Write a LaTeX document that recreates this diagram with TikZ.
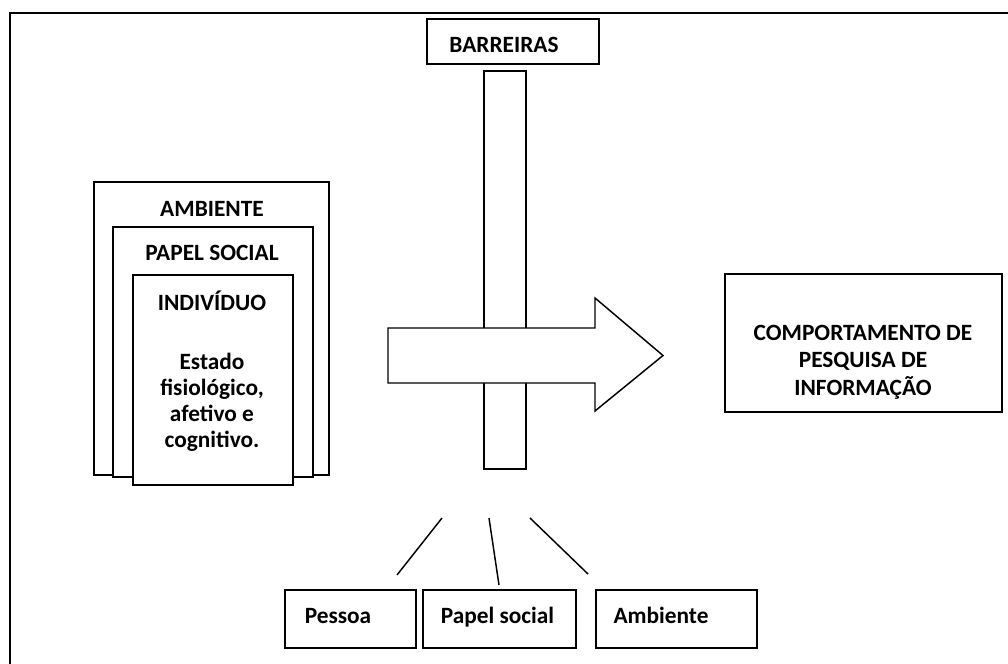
\documentclass[tikz,border=0pt]{standalone}
\usepackage{fontspec}
\setmainfont{Carlito}
\usetikzlibrary{fit}
\tikzset{box/.style={draw,line width=1.1pt,fill=white,inner sep=0pt},
         label text/.style={font=\fontsize{17.5}{20}\selectfont\bfseries,align=center,inner sep=0pt},
         word/.style={label text,anchor=base},
         link/.style={line width=1.1pt},
        }

\begin{document}
\begin{tikzpicture}[x=0.75pt,y=-0.75pt]
        \useasboundingbox (0,0) rectangle (1008,664);
        \coordinate (f1) at (10,664);
        \coordinate (f2) at (10,13);
        \coordinate (f3) at (1008,13);
        \draw[link] (f1)--(f2)--(f3);

        \node[box,fit={(94,182) (329,475)}](amb){};
        \node[box,fit={(113,227) (313,477)}](pap){};
        \node[box,fit={(133,275) (293,485)}](ind){};
        \node[word](tamb)at(212,216.5){AMBIENTE};
        \node[word](tpap)at(212,260.5){PAPEL SOCIAL};
        \node[word](tind)at(212,310){INDIVÍDUO};
        \node[label text,font=\fontsize{17.5}{19.6}\selectfont\bfseries](test)at(212,402){Estado\\fisiológico,\\afetivo e\\cognitivo.};

        \node[box,fit={(427,19) (599,64)}](bar){};
        \node[word](tbar)at(504,52){BARREIRAS};
        \node[box,fit={(484,71) (526,469)}](pole){};
        \draw[box](388,328)--(595,328)--(595,298)--(663,355.5)--(595,411)--(595,383)--(388,383)--cycle;

        \node[box,fit={(725,274) (1002,412)}](comp){};
        \node[label text,font=\fontsize{17.5}{20.6}\selectfont\bfseries](tcomp)at(863,362){COMPORTAMENTO DE\\PESQUISA DE\\INFORMAÇÃO};

        \node[box,fit={(285,590) (416,648)}](pes){};
        \node[box,fit={(423,590) (576,648)}](pso){};
        \node[box,fit={(596,590) (757,648)}](env){};
        \node[word](tpes)at(338,623){Pessoa};
        \node[word](tpso)at(497.5,623){Papel social};
        \node[word](tenv)at(661,623){Ambiente};

        \coordinate (l1a) at (442,518);
        \coordinate (l1b) at (397,575);
        \coordinate (l2a) at (489,518);
        \coordinate (l2b) at (499,585);
        \coordinate (l3a) at (530,518);
        \coordinate (l3b) at (588,574);
        \draw[link](l1a)--(l1b);
        \draw[link](l2a)--(l2b);
        \draw[link](l3a)--(l3b);
    \end{tikzpicture}
\end{document}
